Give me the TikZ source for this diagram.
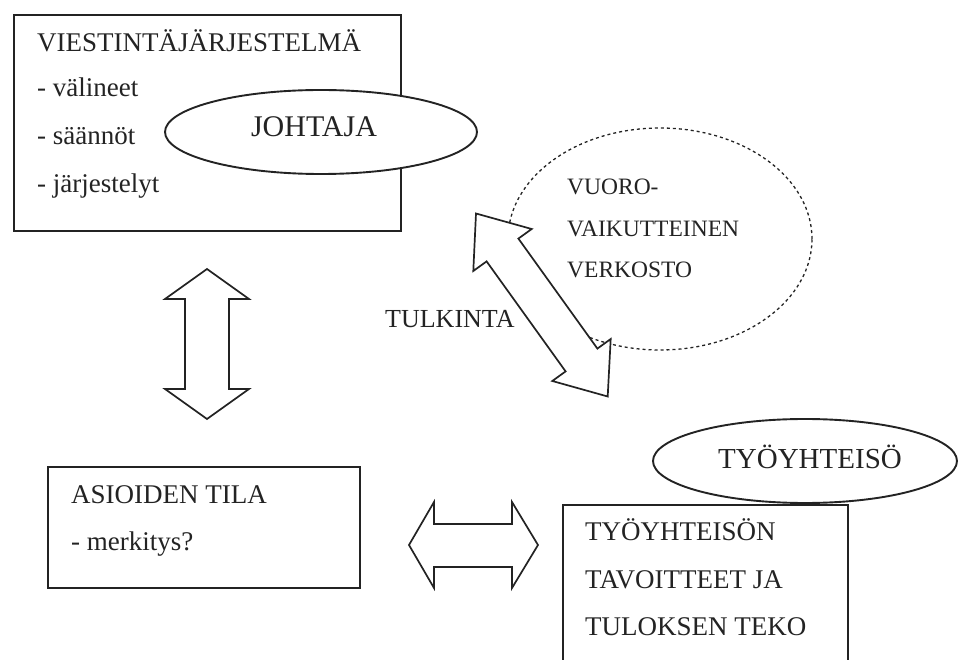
\documentclass[tikz,border=0pt]{standalone}
\usepackage{fontspec}
\setmainfont{Liberation Serif}
\usetikzlibrary{shapes.geometric}
\definecolor{ink}{RGB}{35,35,35}
\begin{document}
\begin{tikzpicture}[x=1pt,y=-1pt,
  box/.style={draw=ink, line width=1.8pt, rectangle, inner sep=0pt},
  oval/.style={draw=ink, line width=1.9pt, ellipse, fill=white, inner sep=0pt},
  netw/.style={draw=ink, line width=1.3pt, ellipse, inner sep=0pt, dash pattern=on 3pt off 3pt},
  lbl/.style={anchor=base west, inner sep=0pt, text=ink, font=\fontsize{27}{32}\selectfont},
  clbl/.style={anchor=base, inner sep=0pt, text=ink},
  blockarrow/.style={draw=ink, line width=1.7pt, fill=white, line join=miter},
]
\useasboundingbox (0,0) rectangle (959,660);
\clip (0,0) rectangle (959,660);

% top-left box and leader ellipse
\node[box, minimum width=387pt, minimum height=216pt] (sysbox) at (207.5,123) {};
\node[oval, minimum width=312pt, minimum height=84pt] (johtaja) at (321,132) {};

% interaction network (dotted)
\node[netw, minimum width=304pt, minimum height=222pt] (network) at (660,239) {};

% diagonal double block arrow (TULKINTA)
\draw[blockarrow] (476,213.5) -- (531.7,229) -- (518.4,238.6) -- (597.4,348.6)
  -- (610.7,339) -- (607.7,396.5) -- (552.3,381) -- (565.6,371.4)
  -- (486.6,261.4) -- (473.3,271) -- cycle;

% vertical double block arrow
\draw[blockarrow] (207,269) -- (249,299) -- (229,299) -- (229,389) -- (249,389)
  -- (207,419) -- (165,389) -- (185,389) -- (185,299) -- (165,299) -- cycle;

% horizontal double block arrow
\draw[blockarrow] (409,545) -- (434,502) -- (434,524) -- (512,524) -- (512,502)
  -- (538,545) -- (512,588) -- (512,567) -- (434,567) -- (434,588) -- cycle;

% bottom boxes
\node[box, minimum width=312pt, minimum height=121pt] (asiat) at (204,527.5) {};
\node[box, minimum width=285pt, minimum height=180pt] (tyobox) at (705.5,595) {};
\node[oval, minimum width=304pt, minimum height=84pt] (tyo) at (805,461) {};

% texts
\node[lbl] (t1) at (37,52) {VIESTINTÄJÄRJESTELMÄ};
\node[lbl] (t2) at (37,97) {- välineet};
\node[lbl] (t3) at (37,145) {- säännöt};
\node[lbl] (t4) at (37,193) {- järjestelyt};
\node[clbl, font=\fontsize{30}{34}\selectfont] (tj) at (314,137) {JOHTAJA};

\node[lbl, font=\fontsize{23.5}{28}\selectfont] (n1) at (567,195) {VUORO-};
\node[lbl, font=\fontsize{23.5}{28}\selectfont] (n2) at (567,237) {VAIKUTTEINEN};
\node[lbl, font=\fontsize{23.5}{28}\selectfont] (n3) at (567,278) {VERKOSTO};

\node[lbl, font=\fontsize{26}{30}\selectfont] (tk) at (385,328) {TULKINTA};

\node[lbl] (a1) at (71,503) {ASIOIDEN TILA};
\node[lbl] (a2) at (71,550) {- merkitys?};

\node[clbl, font=\fontsize{29}{34}\selectfont] (ty) at (810,468) {TYÖYHTEISÖ};
\node[lbl] (b1) at (585,540) {TYÖYHTEISÖN};
\node[lbl] (b2) at (585,588) {TAVOITTEET JA};
\node[lbl] (b3) at (585,635) {TULOKSEN TEKO};
\end{tikzpicture}
\end{document}
